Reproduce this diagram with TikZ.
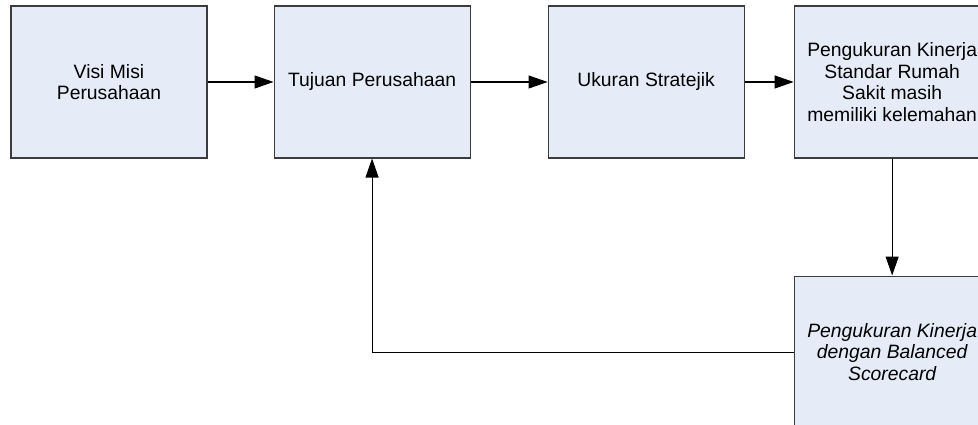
\documentclass[tikz,border=0pt]{standalone}
\usepackage{fontspec}
\setmainfont{Liberation Sans}
\usetikzlibrary{positioning,arrows.meta}
\definecolor{boxfill}{HTML}{E6ECF7}
\definecolor{boxline}{HTML}{3C3C3C}

\begin{document}
\begin{tikzpicture}[
        block/.style={draw=boxline, fill=boxfill, line width=0.6pt,
            minimum width=3.92cm, minimum height=3.04cm, inner sep=0pt,
            align=center, font=\fontsize{11}{12.3}\selectfont},
        flow/.style={-{Triangle[length=0.38cm,width=0.26cm]}, line width=0.6pt}
    ]
        % keep the page at the reference size
        \clip (0,0) rectangle (19.56,8.5);

        % top row of blocks
        \node[block] (visi) at (2.18,6.86) {Visi Misi\\Perusahaan};
        \node[block, right=1.32cm of visi] (tujuan) {Tujuan Perusahaan};
        \node[block, right=1.54cm of tujuan] (ukuran) {Ukuran Stratejik};
        \node[block, right=0.98cm of ukuran] (standar) {Pengukuran Kinerja\\Standar Rumah\\Sakit masih\\memiliki kelemahan};

        % block under the last one
        \node[block, below=2.34cm of standar] (bsc) {\itshape Pengukuran Kinerja\\\itshape dengan Balanced\\\itshape Scorecard};

        % arrows between the blocks
        \draw[flow] (visi) -- (tujuan);
        \draw[flow] (tujuan) -- (ukuran);
        \draw[flow] (ukuran) -- (standar);
        \draw[flow] (standar) -- (bsc);

        % feedback back to the goals
        \draw[flow] (bsc.west) -| (tujuan.south);
    \end{tikzpicture}
\end{document}
